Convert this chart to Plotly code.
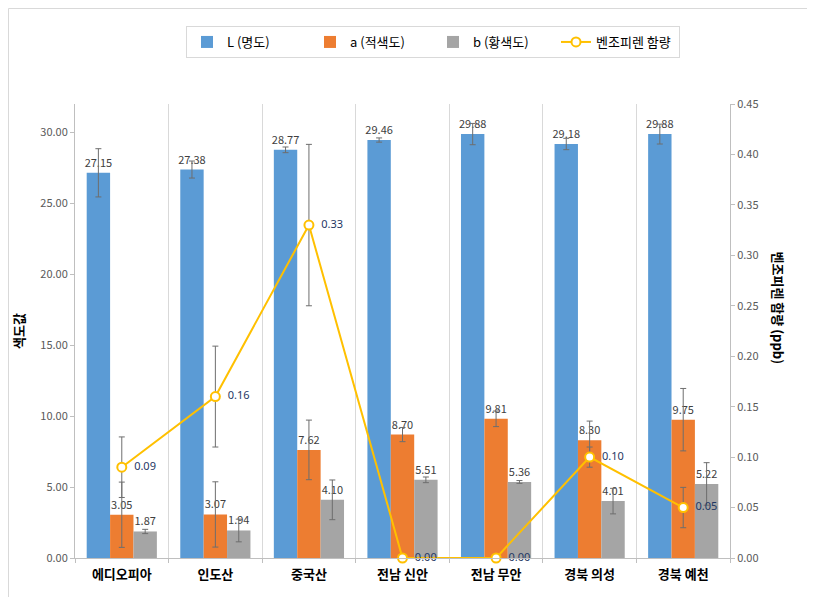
import plotly.graph_objects as go

categories = ["에디오피아", "인도산", "중국산", "전남 신안", "전남 무안", "경북 의성", "경북 예천"]
L_values = [27.15, 27.38, 28.77, 29.46, 29.88, 29.18, 29.88]
L_err = [1.7, 0.6, 0.2, 0.15, 0.75, 0.4, 0.7]
a_values = [3.05, 3.07, 7.62, 8.70, 9.81, 8.30, 9.75]
a_err = [2.3, 2.3, 2.1, 0.5, 0.55, 1.35, 2.2]
b_values = [1.87, 1.94, 4.10, 5.51, 5.36, 4.01, 5.22]
b_err = [0.15, 0.8, 1.4, 0.2, 0.1, 0.9, 1.5]
bap_values = [0.09, 0.16, 0.33, 0.00, 0.00, 0.10, 0.05]
bap_err = [0.03, 0.05, 0.08, 0.0, 0.0, 0.01, 0.02]

FONT = "Noto Sans CJK KR"
W, H = 815, 597
ML, MR, MT, MB = 67, 93, 96, 47
PW = W - ML - MR
PH = H - MT - MB

def px_x(p):
    return (p - ML) / PW

def px_y(p):
    return (H - MB - p) / PH

err_style = dict(type="data", visible=True, color="#6E6E6E", thickness=1, width=3)

fig = go.Figure()
for name, vals, errs, color in [
    ("L (명도)", L_values, L_err, "#5B9BD5"),
    ("a (적색도)", a_values, a_err, "#ED7D31"),
    ("b (황색도)", b_values, b_err, "#A5A5A5"),
]:
    fig.add_trace(go.Bar(
        x=categories, y=vals, name=name, marker=dict(color=color, line=dict(width=0)),
        error_y=dict(array=errs, **err_style),
        text=[f"{v:.2f}" for v in vals], texttemplate="%{text}", textposition="outside",
        constraintext="none",
        textfont=dict(size=11, color="#404040", family=FONT), cliponaxis=False,
    ))

fig.add_trace(go.Scatter(
    x=categories, y=bap_values, name="벤조피렌 함량", yaxis="y2", mode="lines+markers+text",
    line=dict(color="#FFC000", width=2),
    marker=dict(symbol="circle", size=9, color="white", line=dict(color="#FFC000", width=2)),
    error_y=dict(array=bap_err, **err_style),
    text=[f"  {v:.2f}" for v in bap_values], textposition="middle right",
    textfont=dict(size=11, color="#1F3864", family="Noto Sans"), cliponaxis=False,
))

fig.update_layout(
    width=W, height=H,
    margin=dict(l=ML, r=MR, t=MT, b=MB, pad=0),
    paper_bgcolor="white", plot_bgcolor="white",
    font=dict(family=FONT, color="#595959"),
    barmode="group", bargap=0.25, bargroupgap=0,
    xaxis=dict(
        tickson="boundaries", showgrid=True, gridcolor="#D9D9D9", gridwidth=1,
        showline=True, linecolor="#BFBFBF", ticks="outside", ticklen=4, tickcolor="#BFBFBF",
        tickfont=dict(size=13, color="#000000", family=FONT),
        tickvals=categories, ticktext=[f"<b>{c}</b>" for c in categories],
        ticklabelstandoff=4,
        zeroline=False,
    ),
    yaxis=dict(
        range=[0, 32], tickvals=[0, 5, 10, 15, 20, 25, 30], tickformat=".2f",
        showgrid=False, zeroline=False, showline=True, linecolor="#BFBFBF",
        ticks="outside", ticklen=4, tickcolor="#BFBFBF",
        tickfont=dict(size=11, color="#595959", family=FONT),
        title=dict(text="<b>색도값</b>", font=dict(size=13, color="#000000", family=FONT), standoff=12),
    ),
    yaxis2=dict(
        overlaying="y", side="right", range=[0, 0.45], dtick=0.05, tick0=0, tickformat=".2f",
        showgrid=False, zeroline=False, showline=True, linecolor="#BFBFBF",
        ticks="outside", ticklen=4, tickcolor="#BFBFBF",
        tickfont=dict(size=11, color="#595959", family=FONT),
    ),
    legend=dict(
        orientation="h", x=px_x(425), xanchor="center", y=px_y(18), yanchor="top",
        bordercolor="#D9D9D9", borderwidth=1, bgcolor="white",
        entrywidth=78, entrywidthmode="pixels",
        font=dict(size=13, color="#000000", family=FONT), traceorder="normal",
    ),
    showlegend=True,
)

fig.add_annotation(
    text="<b>벤조피렌 함량 (ppb)</b>", xref="paper", yref="paper",
    x=px_x(782), y=px_y(300), textangle=90, showarrow=False,
    font=dict(size=13, color="#000000", family=FONT),
)

fig.add_shape(
    type="rect", xref="paper", yref="paper",
    x0=px_x(0.5), x1=px_x(W - 0.5), y0=px_y(H - 0.5), y1=px_y(0.5),
    line=dict(color="#D9D9D9", width=1), layer="below",
)

fig.write_html("out.html")
